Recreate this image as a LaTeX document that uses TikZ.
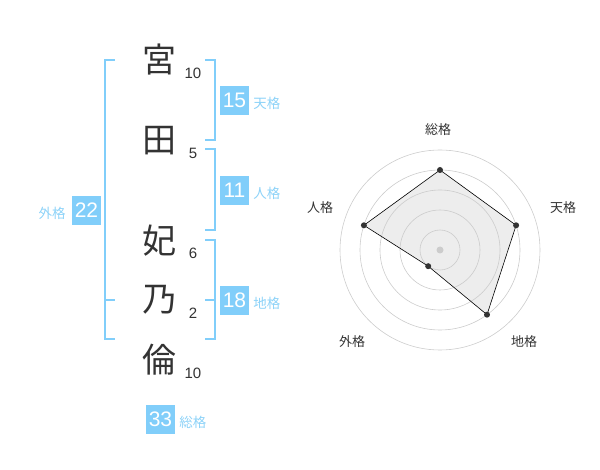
\documentclass[tikz,border=0pt]{standalone}
\usepackage{fontspec}
\setmainfont{Liberation Sans}
\newfontfamily\cjk{Noto Sans CJK JP}
\usetikzlibrary{positioning}
\definecolor{sky}{RGB}{129,206,250}
\definecolor{skytext}{RGB}{140,210,248}
\definecolor{ink}{RGB}{51,51,51}

\begin{document}
\begin{tikzpicture}[x=1pt,y=-1pt,
	kanji/.style={font=\cjk\fontsize{34}{34}\selectfont,text=ink,inner sep=0pt},
	strokes/.style={font=\fontsize{15}{15}\selectfont,text=ink,inner sep=0pt},
	kakubox/.style={fill=sky,text=white,font=\fontsize{21}{21}\selectfont,minimum size=29pt,inner sep=0pt},
	kakuname/.style={font=\cjk\fontsize{13.5}{13.5}\selectfont,text=skytext,inner sep=0pt},
	bracket/.style={draw=sky,line width=2pt},
	ring/.style={draw=black!20,line width=0.6pt},
	axislabel/.style={font=\cjk\fontsize{13}{13}\selectfont,text=ink,inner sep=0pt}]
				\useasboundingbox (0,0) rectangle (600,470);
				% name and stroke counts
				\node[kanji] (k1) at (159,60) {宮};
				\node[kanji] (k2) at (159,141) {田};
				\node[kanji] (k3) at (159,241) {妃};
				\node[kanji] (k4) at (159,300) {乃};
				\node[kanji] (k5) at (159,360) {倫};
				\node[strokes] (s1) at (193,73) {10};
				\node[strokes] (s2) at (193,153) {5};
				\node[strokes] (s3) at (193,253) {6};
				\node[strokes] (s4) at (193,313) {2};
				\node[strokes] (s5) at (193,373) {10};
				% brackets
				\draw[bracket] (205,60) -- (215,60) -- (215,140) -- (205,140);
				\draw[bracket] (205,149) -- (215,149) -- (215,230) -- (205,230);
				\draw[bracket] (205,240) -- (215,240) -- (215,339) -- (205,339);
				\draw[bracket] (205,300) -- (215,300);
				\draw[bracket] (115,60) -- (105,60) -- (105,339) -- (115,339);
				\draw[bracket] (105,300) -- (115,300);
				% boxes
				\node[kakubox] (b15) at (234.5,100.5) {15};
				\node[kakuname,right=4pt of b15,yshift=-3pt] (n15) {天格};
				\node[kakubox] (b11) at (234.5,190.5) {11};
				\node[kakuname,right=4pt of b11,yshift=-3pt] (n11) {人格};
				\node[kakubox] (b18) at (234.5,300.5) {18};
				\node[kakuname,right=4pt of b18,yshift=-3pt] (n18) {地格};
				\node[kakubox] (b22) at (86.5,210.5) {22};
				\node[kakuname,left=6pt of b22,yshift=-3pt] (n22) {外格};
				\node[kakubox] (b33) at (160.5,419) {33};
				\node[kakuname,right=4pt of b33,yshift=-3pt] (n33) {総格};
				% radar chart
				\coordinate (c) at (440,250);
				\coordinate (p1) at (440,170);
				\coordinate (p2) at (516.1,225.3);
				\coordinate (p3) at (487.0,314.7);
				\coordinate (p4) at (428.2,266.2);
				\coordinate (p5) at (363.9,225.3);
				\fill[black!7] (p1) -- (p2) -- (p3) -- (p4) -- (p5) -- cycle;
				\draw[ring] (c) circle[radius=20];
				\draw[ring] (c) circle[radius=40];
				\draw[ring] (c) circle[radius=60];
				\draw[ring] (c) circle[radius=80];
				\draw[ring] (c) circle[radius=100];
				\fill[black!20] (c) circle[radius=3.5];
				\draw[black,line width=0.6pt] (p1) -- (p2) -- (p3) -- (p4) -- (p5) -- cycle;
				\fill[ink] (p1) circle[radius=3];
				\fill[ink] (p2) circle[radius=3];
				\fill[ink] (p3) circle[radius=3];
				\fill[ink] (p4) circle[radius=3];
				\fill[ink] (p5) circle[radius=3];
				\node[axislabel] (a1) at (438,130) {総格};
				\node[axislabel] (a2) at (563,208) {天格};
				\node[axislabel] (a3) at (524,342) {地格};
				\node[axislabel] (a4) at (352,342) {外格};
				\node[axislabel] (a5) at (320,208) {人格};
			\end{tikzpicture}
\end{document}
